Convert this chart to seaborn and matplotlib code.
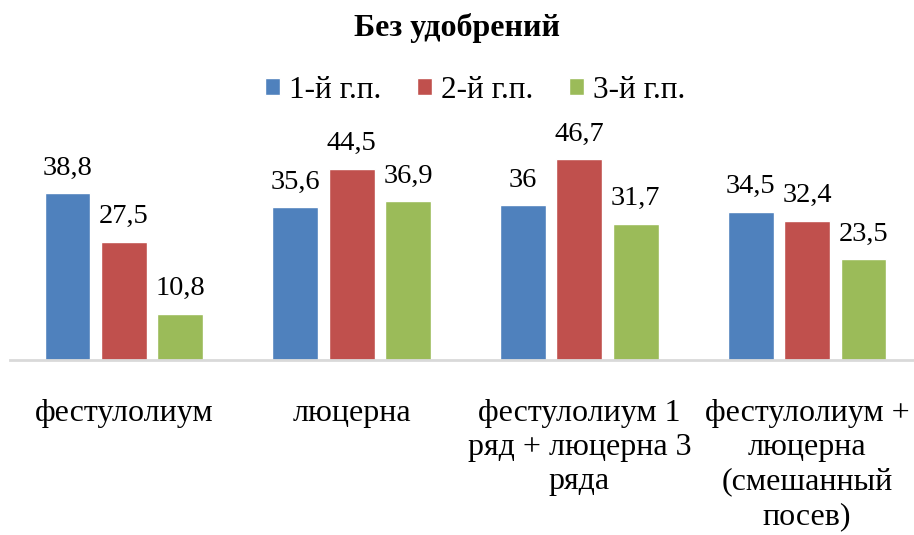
import matplotlib
matplotlib.use("Agg")
import matplotlib.pyplot as plt
import seaborn as sns
import pandas as pd

# Yield by crop mixture and year of use, without fertiliser
categories = [
    "фестулолиум",
    "люцерна",
    "фестулолиум 1\nряд + люцерна 3\nряда",
    "фестулолиум +\nлюцерна\n(смешанный\nпосев)",
]
series_names = ["1-й г.п.", "2-й г.п.", "3-й г.п."]
year1 = [38.8, 35.6, 36.0, 34.5]
year2 = [27.5, 44.5, 46.7, 32.4]
year3 = [10.8, 36.9, 31.7, 23.5]
colors = ["#4F81BD", "#C0504D", "#9BBB59"]
title = "Без удобрений"

df = pd.DataFrame({
    "cat": categories * 3,
    "series": [s for s in series_names for _ in categories],
    "value": year1 + year2 + year3,
})

sns.set_theme(style="white")
plt.rcParams["font.family"] = ["Liberation Serif", "DejaVu Serif"]
plt.rcParams["text.color"] = "black"
plt.rcParams["xtick.color"] = "black"
plt.rcParams["xtick.labelcolor"] = "black"

fig = plt.figure(figsize=(9.14, 5.35), dpi=100)
ax = fig.add_axes([10 / 914, 1 - 360 / 535, 911 / 914, 215 / 535])

sns.barplot(data=df, x="cat", y="value", hue="series", order=categories,
            hue_order=series_names, palette=colors, width=0.744, gap=0.19,
            saturation=1, ax=ax, legend=True)

ax.set_ylim(0, 50)
ax.set_xlim(-0.5, 3.5)

for cont in ax.containers:
    ax.bar_label(cont, fmt=lambda v: f"{v:g}".replace(".", ","),
                 fontsize=20.5, padding=9, color="black")

for s in ["top", "right", "left"]:
    ax.spines[s].set_visible(False)
ax.spines["bottom"].set_color("#D9D9D9")
ax.spines["bottom"].set_linewidth(2)
ax.set_yticks([])
ax.set_xlabel("")
ax.set_ylabel("")
ax.set_xticks(range(len(categories)))
ax.set_xticklabels(categories, fontsize=23, linespacing=1.24, color="black")
ax.tick_params(axis="x", length=0, pad=28)

handles, labels = ax.get_legend_handles_labels()
ax.get_legend().remove()
fig.legend(handles, labels, loc="center", bbox_to_anchor=(475 / 914, 1 - 90 / 535),
           ncol=3, frameon=False, fontsize=22.5, handlelength=0.48,
           handleheight=0.48, handletextpad=0.29, columnspacing=1.15,
           borderpad=0, borderaxespad=0, labelcolor="black")

fig.text(456.5 / 914, 1 - 28 / 535, title, ha="center", va="center",
         fontsize=23, fontweight="bold", color="black")

fig.savefig("out.png", dpi=100)
